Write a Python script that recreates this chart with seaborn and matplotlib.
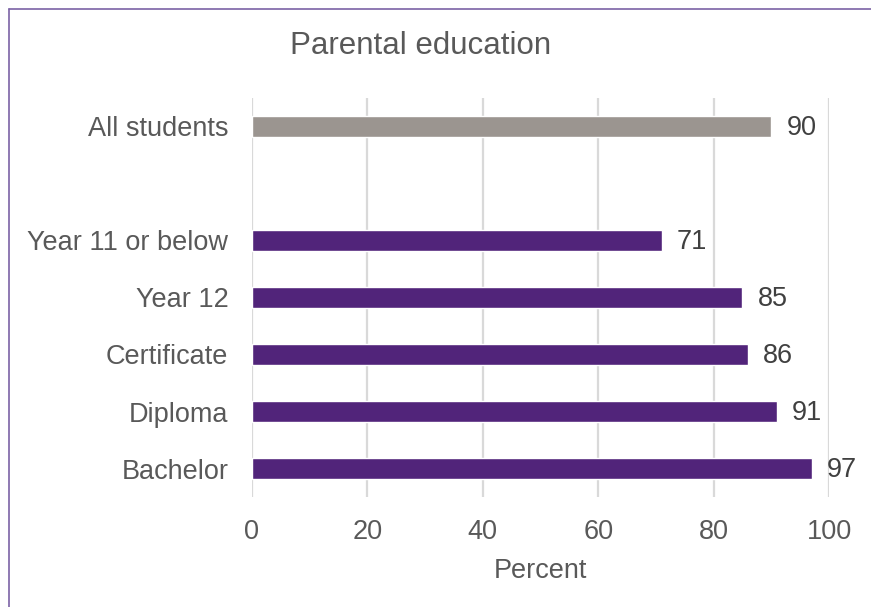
import matplotlib
matplotlib.use("Agg")
import matplotlib.pyplot as plt
from matplotlib.lines import Line2D
import seaborn as sns
import pandas as pd

categories = ["All students", "Year 11 or below", "Year 12", "Certificate", "Diploma", "Bachelor"]
values = [90, 71, 85, 86, 91, 97]
groups = ["overall", "level", "level", "level", "level", "level"]
row_order = ["All students", " ", "Year 11 or below", "Year 12", "Certificate", "Diploma", "Bachelor"]
x_ticks = [0, 20, 40, 60, 80, 100]

GREY_BAR = "#9B9590"
PURPLE = "#51247A"
TEXT = "#595959"

df = pd.DataFrame({"category": categories, "value": values, "group": groups})
palette = {c: (GREY_BAR if g == "overall" else PURPLE) for c, g in zip(categories, groups)}

sns.set_theme(style="white")
plt.rcParams["font.family"] = ["Liberation Sans", "DejaVu Sans"]

fig = plt.figure(figsize=(8.71, 6.07), dpi=100)
ax = fig.add_axes([0.2893, 0.1812, 0.6625, 0.6574])

sns.barplot(data=df, y="category", x="value", hue="category", order=row_order,
            hue_order=categories, palette=palette, orient="h", width=0.37,
            legend=False, saturation=1, ax=ax)

for c, v in zip(categories, values):
    ax.text(v + 2.6, row_order.index(c) + 0.03, f"{v}", va="center", ha="left",
            fontsize=19.5, color="#404040")

ax.set_xlim(0, 100)
ax.set_ylim(len(row_order) - 0.5, -0.5)
ax.set_xticks(x_ticks)
ax.set_xticklabels([str(t) for t in x_ticks])
ax.xaxis.grid(True, color="#D9D9D9", linewidth=1.6)
ax.set_axisbelow(True)
for s in ax.spines.values():
    s.set_visible(False)
ax.tick_params(axis="x", length=0, pad=15.5, labelsize=19.5, labelcolor=TEXT)
ax.tick_params(axis="y", length=0, pad=17, labelsize=19.5, labelcolor=TEXT)
ax.set_ylabel("")
ax.set_xlabel("Percent", fontsize=19.5, color=TEXT, labelpad=10)
ax.set_title("Parental education", fontsize=22.5, color=TEXT, pad=32, x=0.293)

# frame edges around the chart
fig.add_artist(Line2D([9 / 871, 9 / 871], [0, 1 - 9 / 607], transform=fig.transFigure,
                      color="#7B62A6", linewidth=1.2))
fig.add_artist(Line2D([9 / 871, 1], [1 - 9 / 607, 1 - 9 / 607], transform=fig.transFigure,
                      color="#7B62A6", linewidth=1.2))

fig.savefig("out.png", dpi=100)
